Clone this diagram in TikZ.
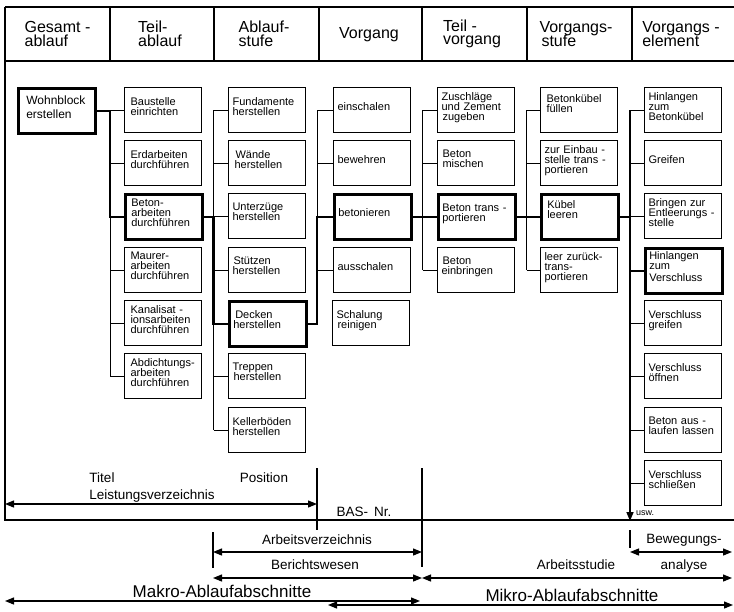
\documentclass[tikz,border=0pt]{standalone}
\usepackage{fontspec}
\setmainfont{Liberation Sans}
\usetikzlibrary{arrows.meta}
\lineskiplimit=-20pt
\newcommand\myBoxFont{\fontsize{11}{10}\selectfont\lineskiplimit=-20pt}
\newcommand\myHdFont{\fontsize{16}{13.5}\selectfont\lineskiplimit=-20pt}
\newcommand\myLabFont{\fontsize{13.5}{14}\selectfont}
\newcommand\myBigFont{\fontsize{17}{18}\selectfont}
\newcommand\mySmallFont{\fontsize{9}{10}\selectfont}
\begin{document}
\begin{tikzpicture}[x=1pt,y=-1pt,
  frame/.style={line width=1.2pt},
  box/.style={draw, line width=1.1pt, minimum width=77pt, minimum height=45pt,
    text width=69pt, inner xsep=4pt, inner ysep=0pt, align=left, anchor=north west,
    font=\myBoxFont, execute at end node={\rule[-8pt]{0pt}{1pt}}},
  tbox/.style={box, line width=2.6pt},
  link/.style={line width=1pt},
  heavy/.style={line width=2.6pt},
  hd/.style={font=\myHdFont, align=left, inner sep=1pt},
  lab/.style={font=\myLabFont, anchor=base, inner sep=0pt},
  big/.style={font=\myBigFont, anchor=base, inner sep=0pt},
  tick/.style={line width=1.1pt},
  dim/.style={line width=1.2pt, {Triangle[length=9pt,width=7pt]}-{Triangle[length=9pt,width=7pt]}},
]
\useasboundingbox (0,0) rectangle (734,611);

% ---------- frame and header ----------
\draw[frame] (5,7) -- (734,7);
\draw[frame] (5,61) -- (734,61);
\draw[frame] (5,7) -- (5,520) -- (734,520);
\foreach \x in {110,214,319,422,527,632} \draw[frame] (\x,7) -- (\x,61);

\node[hd] (h1) at (57.5,34) {Gesamt -\\ablauf};
\node[hd] (h2) at (160,34) {Teil-\\ablauf};
\node[hd] (h3) at (264,34) {Ablauf-\\stufe};
\node[hd] (h4) at (369,35) {Vorgang};
\node[hd] (h5) at (472,34) {Teil -\\vorgang};
\node[hd] (h6) at (576,34) {Vorgangs-\\\hspace*{2pt}stufe};
\node[hd] (h7) at (681,34) {Vorgangs -\\element};

% ---------- spine coordinates ----------
\coordinate (s2) at (110,0);
\coordinate (s3) at (213.5,0);
\coordinate (s4) at (317,0);
\coordinate (s5) at (422.5,0);
\coordinate (s6) at (526.5,0);
\coordinate (s7) at (630,0);
\coordinate (s7end) at (630,521);

% ---------- boxes ----------
\node[tbox, text width=61pt, inner xsep=8pt, font={\fontsize{12}{10}\selectfont}] (w) at (17,87) {Wohnblock\\[4pt]erstellen};

\node[box] (b21) at (124,87)  {\hspace*{2pt}Baustelle\\\hspace*{2pt}einrichten};
\node[box] (b22) at (124,140) {\hspace*{2pt}Erdarbeiten\\\hspace*{2pt}durchführen};
\node[tbox] (b23) at (124,193) {\hspace*{2pt}Beton-\\\hspace*{2pt}arbeiten\\\hspace*{2pt}durchführen};
\node[box] (b24) at (124,247) {\hspace*{2pt}Maurer-\\\hspace*{2pt}arbeiten\\\hspace*{2pt}durchführen};
\node[box] (b25) at (124,300) {\hspace*{2pt}Kanalisat -\\\hspace*{2pt}ionsarbeiten\\\hspace*{2pt}durchführen};
\node[box] (b26) at (124,353) {\hspace*{2pt}Abdichtungs-\\\hspace*{2pt}arbeiten\\\hspace*{2pt}durchführen};

\node[box] (b31) at (228,87)  {Fundamente\\herstellen};
\node[box] (b32) at (228,140) {\hspace*{3pt}Wände\\\hspace*{2pt}herstellen};
\node[box] (b33) at (228,193) {Unterzüge\\herstellen};
\node[box] (b34) at (228,247) {\hspace*{1pt}Stützen\\herstellen};
\node[tbox] (b35) at (228,300) {\hspace*{2pt}Decken\\herstellen};
\node[box] (b36) at (228,353) {Treppen\\\hspace*{1pt}herstellen};
\node[box] (b37) at (228,407) {Kellerböden\\herstellen};

\node[box] (b41) at (333,87)  {einschalen};
\node[box] (b42) at (333,140) {bewehren};
\node[tbox] (b43) at (333,193) {betonieren};
\node[box] (b44) at (333,247) {ausschalen};
\node[box] (b45) at (332,300) {Schalung\\\hspace*{1pt}reinigen};

\node[box] (b51) at (437,87)  {Zuschläge\\und Zement\\\hspace*{1pt}zugeben};
\node[box] (b52) at (437,140) {\hspace*{1pt}Beton\\\hspace*{1pt}mischen};
\node[tbox] (b53) at (437,193) {Beton trans -\\portieren};
\node[box] (b54) at (437,247) {\hspace*{1pt}Beton\\einbringen};

\node[box, execute at end node={\rule[-14pt]{0pt}{1pt}}] (b61) at (540,87)  {\hspace*{2pt}Betonkübel\\\hspace*{2pt}füllen};
\node[box] (b62) at (540,140) {zur Einbau -\\stelle trans -\\portieren};
\node[tbox, execute at end node={\rule[-14pt]{0pt}{1pt}}] (b63) at (540,193) {\hspace*{2pt}Kübel\\\hspace*{2pt}leeren};
\node[box] (b64) at (540,247) {leer zurück-\\trans-\\portieren};

\node[box] (b71) at (644,87)  {Hinlangen\\zum\\Betonkübel};
\node[box] (b72) at (644,140) {Greifen};
\node[box] (b73) at (644,193) {Bringen zur\\Entleerungs -\\stelle};
\node[tbox] (b74) at (644,247) {Hinlangen\\zum\\[2pt]Verschluss};
\node[box] (b75) at (644,300) {Verschluss\\greifen};
\node[box] (b76) at (644,353) {Verschluss\\öffnen};
\node[box] (b77) at (644,407) {Beton aus -\\laufen lassen};
\node[box] (b78) at (644,460) {Verschluss\\schließen};

% ---------- tree connectors ----------
% column 2
\draw[link] (w.east -| s2) -- (b26.west -| s2);
\foreach \i in {1,2,4,5,6} \draw[link] (b2\i.west -| s2) -- (b2\i.west);
\draw[heavy] (w.east) -- (w.east -| s2) -- (b23.west -| s2) -- (b23.west);
% column 3
\draw[link] (b31.west -| s3) -- (b37.west -| s3);
\foreach \i in {1,2,3,4,6,7} \draw[link] (b3\i.west -| s3) -- (b3\i.west);
\draw[heavy] (b23.east) -- (b23.east -| s3) -- (b35.west -| s3) -- (b35.west);
% column 4
\draw[link] (b41.west -| s4) -- (b44.west -| s4);
\foreach \i in {1,2,4} \draw[link] (b4\i.west -| s4) -- (b4\i.west);
\draw[heavy] (b35.east) -- (b35.east -| s4) -- (b43.west -| s4) -- (b43.west);
% column 5
\draw[link] (b51.west -| s5) -- (b54.west -| s5);
\foreach \i in {1,2,4} \draw[link] (b5\i.west -| s5) -- (b5\i.west);
\draw[heavy] (b43.east) -- (b53.west);
% column 6
\draw[link] (b61.west -| s6) -- (b64.west -| s6);
\foreach \i in {1,2,4} \draw[link] (b6\i.west -| s6) -- (b6\i.west);
\draw[heavy] (b53.east) -- (b63.west);
% column 7
\draw[line width=1.6pt, -{Triangle[length=9pt,width=7pt]}] (b71.west -| s7) -- (s7end);
\foreach \i in {1,2,3,5,6,7,8} \draw[link] (b7\i.west -| s7) -- (b7\i.west);
\draw[heavy] (b63.east) -- (b63.east -| s7) -- (b74.west -| s7) -- (b74.west);

\node[font=\mySmallFont, anchor=base west, inner sep=0pt] (usw) at (636,515) {usw.};

% ---------- lower scale ----------
\coordinate (v1t) at (317,468); \coordinate (v1b) at (317,530);
\coordinate (v2t) at (213,532); \coordinate (v2b) at (213,568);
\coordinate (v3t) at (422,468); \coordinate (v3b) at (422,567);
\coordinate (v4t) at (630,530); \coordinate (v4b) at (630,548);
\draw[tick] (v1t) -- (v1b);
\draw[tick] (v2t) -- (v2b);
\draw[tick] (v3t) -- (v3b);
\draw[tick] (v4t) -- (v4b);

\coordinate (lvA) at (5,504);   \coordinate (lvB) at (317,504);
\coordinate (avA) at (213,552); \coordinate (avB) at (422,552);
\coordinate (bwA) at (213,578); \coordinate (bwB) at (422,578);
\coordinate (asA) at (422,578); \coordinate (asB) at (732,578);
\coordinate (baA) at (630,552); \coordinate (baB) at (732,552);
\coordinate (maA) at (5,601);   \coordinate (maB) at (420,601);
\coordinate (miA) at (328,605); \coordinate (miB) at (733,605);
\draw[dim] (lvA) -- (lvB);
\draw[dim] (avA) -- (avB);
\draw[dim] (bwA) -- (bwB);
\draw[dim] (asA) -- (asB);
\draw[dim] (baA) -- (baB);
\draw[dim] (maA) -- (maB);
\draw[dim] (miA) -- (miB);

\node[lab] (titel) at (102,482) {Titel};
\node[lab] (pos) at (264,482) {Position};
\node[lab] (lv) at (152,499) {Leistungsverzeichnis};
\node[lab] (bas) at (364,516) {BAS-\hspace{6pt}Nr.};
\node[lab] (av) at (317,544) {Arbeitsverzeichnis};
\node[lab] (bw) at (315,569) {Berichtswesen};
\node[lab] (bew) at (684,543) {Bewegungs-};
\node[lab] (as) at (576,569) {Arbeitsstudie};
\node[lab] (an) at (684,569) {analyse};
\node[big] (makro) at (222,597) {Makro-Ablaufabschnitte};
\node[big] (mikro) at (572,601) {Mikro-Ablaufabschnitte};
\end{tikzpicture}
\end{document}
